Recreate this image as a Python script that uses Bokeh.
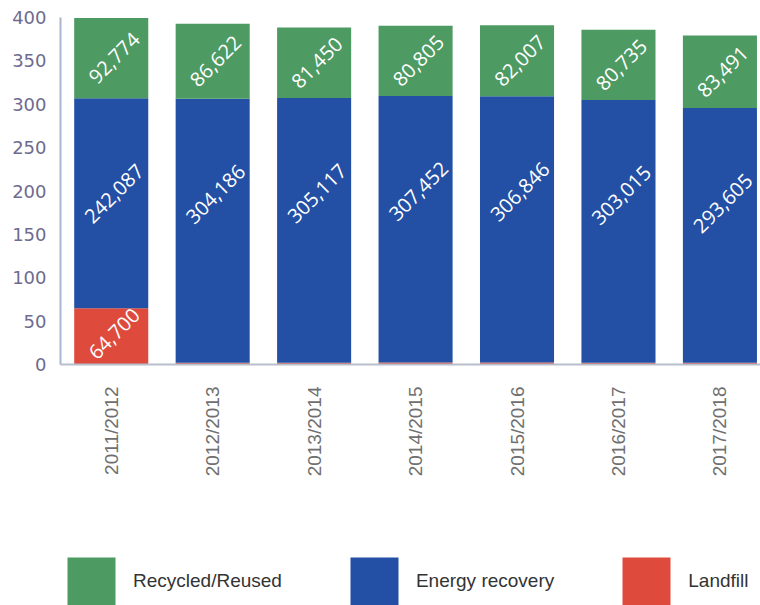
import math
from bokeh.plotting import figure
from bokeh.models import (ColumnDataSource, Range1d, FixedTicker, Legend, LegendItem)
from bokeh.layouts import column
from bokeh.core.properties import value
from bokeh.embed import file_html
from bokeh.resources import INLINE

# ---- data (tonnes) ----
years = ["2011/2012", "2012/2013", "2013/2014", "2014/2015", "2015/2016", "2016/2017", "2017/2018"]
landfill = [64700, 2100, 2000, 2200, 2300, 2000, 2100]
energy = [242087, 304186, 305117, 307452, 306846, 303015, 293605]
recycled = [92774, 86622, 81450, 80805, 82007, 80735, 83491]
y_ticks = [0, 50, 100, 150, 200, 250, 300, 350, 400]
legend_names = ["Recycled/Reused", "Energy recovery", "Landfill"]

GREEN = "#4d9a62"
BLUE = "#2350a5"
RED = "#de4b3c"
BG = "#ffffff"

xs = list(range(len(years)))
lf_k = [v / 1000 for v in landfill]
en_k = [v / 1000 for v in energy]
rc_k = [v / 1000 for v in recycled]

src = ColumnDataSource(dict(x=xs, landfill=lf_k, energy=en_k, recycled=rc_k))

p = figure(width=760, height=520, x_range=Range1d(-0.5, 6.4), y_range=Range1d(0, 400),
           output_backend="svg", toolbar_location=None,
           min_border_left=60, min_border_top=17, min_border_right=0, min_border_bottom=156,
           background_fill_color=BG, border_fill_color=BG)
p.outline_line_color = None
p.xgrid.grid_line_color = None
p.ygrid.grid_line_color = None

p.vbar_stack(["landfill", "energy", "recycled"], x="x", width=0.73, source=src,
             fill_color=[RED, BLUE, GREEN], line_color=None)

# labels
lab_x, lab_y, lab_t = [], [], []
for i in xs:
    if landfill[i] > 10000:
        lab_x.append(i); lab_y.append(lf_k[i] / 2 + 3); lab_t.append(f"{landfill[i]:,}")
    lab_x.append(i); lab_y.append(lf_k[i] + en_k[i] - 110); lab_t.append(f"{energy[i]:,}")
    lab_x.append(i); lab_y.append(lf_k[i] + en_k[i] + rc_k[i] / 2); lab_t.append(f"{recycled[i]:,}")
lsrc = ColumnDataSource(dict(x=lab_x, y=lab_y, t=lab_t))
p.text(x="x", y="y", text="t", source=lsrc, angle=45, angle_units="deg",
       text_align="center", text_baseline="middle", text_color="white",
       text_font=value("Open Sans"), text_font_size="20px", x_offset=3)

# axes
p.yaxis.ticker = FixedTicker(ticks=y_ticks)
p.yaxis.major_tick_line_color = None
p.yaxis.minor_tick_line_color = None
p.yaxis.axis_line_color = "#a9b6cf"
p.yaxis.axis_line_width = 2
p.yaxis.major_label_standoff = 8
p.yaxis.major_label_text_font = "DejaVu Sans"
p.yaxis.major_label_text_font_size = "18px"
p.yaxis.major_label_text_color = "#6e6b8f"

p.xaxis.ticker = FixedTicker(ticks=xs)
p.xaxis.major_label_overrides = {i: y for i, y in enumerate(years)}
p.xaxis.major_label_orientation = math.pi / 2
p.xaxis.major_tick_line_color = None
p.xaxis.minor_tick_line_color = None
p.xaxis.axis_line_color = "#b7bfcc"
p.xaxis.axis_line_width = 2
p.xaxis.major_label_standoff = 16
p.xaxis.major_label_text_font = "Liberation Sans"
p.xaxis.major_label_text_font_size = "19px"
p.xaxis.major_label_text_color = "#6f6f6f"

# legend figure
p2 = figure(width=760, height=85, x_range=Range1d(0, 1), y_range=Range1d(0, 1),
            output_backend="svg", toolbar_location=None,
            x_axis_location=None, y_axis_location=None,
            min_border=0, background_fill_color=BG, border_fill_color=BG)
p2.outline_line_color = None
p2.grid.grid_line_color = None
cols = [GREEN, BLUE, RED]
items = []
for n, c in zip(legend_names, cols):
    # zero-height proxy glyph: only used to draw the legend swatch
    r = p2.vbar(x=[0.5], top=[0], width=0.1, fill_color=c, line_color=None)
    items.append(LegendItem(label=n, renderers=[r]))
leg = Legend(items=items, orientation="horizontal", location=(1, -6),
             glyph_width=60, glyph_height=60, label_standoff=12, spacing=62,
             padding=0, margin=0, border_line_color=None, background_fill_alpha=0,
             label_text_font="Liberation Sans", label_text_font_size="19px",
             label_text_color="#333333")
p2.add_layout(leg)

layout = column(p, p2, spacing=0)
open("out.html", "w").write(file_html(layout, INLINE))
